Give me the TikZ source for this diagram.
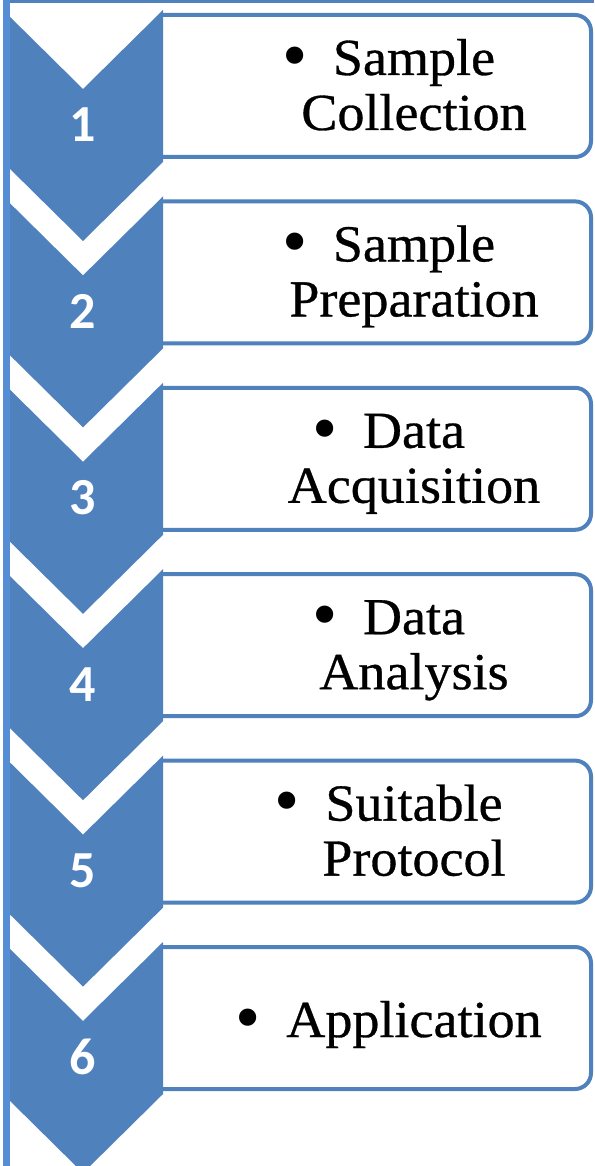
\documentclass[tikz,border=0pt]{standalone}
\usepackage{fontspec}
\setmainfont[FakeBold=0.6,FakeStretch=1.04]{Liberation Serif}
\newfontfamily\numfont{Carlito}
\newfontfamily\bulfont{Liberation Serif}
\definecolor{chev}{RGB}{79,129,189}
\definecolor{barblue}{RGB}{85,142,213}
\begin{document}
\begin{tikzpicture}[x=1pt,y=-1pt,
  chevron/.style={fill=chev, draw=none},
  stepnum/.style={text=white, font=\numfont\bfseries\fontsize{52}{52}\selectfont, inner sep=0pt},
  itembox/.style={draw=chev, line width=4pt, fill=white, rounded corners=16pt},
  word/.style={font=\fontsize{52}{52}\selectfont, inner sep=0pt, anchor=base},
  bul/.style={font=\bulfont\fontsize{72}{72}\selectfont, inner sep=0pt, anchor=center}]
\useasboundingbox (0,0) rectangle (594,1166);
\fill[white] (0,0) rectangle (594,1166);
% boxes
\foreach \k in {0,...,5} {
  \draw[itembox] (162,15+\k*186.4) -- (591,15+\k*186.4) -- (591,157+\k*186.4) -- (162,157+\k*186.4);
}
% chevrons
\foreach \k in {0,...,5} {
  \fill[chevron] (3,10+\k*186.4) -- (83,89+\k*186.4) -- (163,10+\k*186.4) -- (163,162+\k*186.4)
     -- (83,241+\k*186.4) -- (3,162+\k*186.4) -- cycle;
}
% frame
\fill[barblue] (3,0) rectangle (10,1166);
\fill[chev] (10,0) rectangle (594,3.5);
% numbers
\foreach \k/\n in {0/1,1/2,2/3,3/4,4/5,5/6} {
  \node[stepnum] (num\n) at (83,125+\k*186.4) {\n};
}
% texts
\foreach \k/\a/\b in {0/Sample/Collection,1/Sample/Preparation,2/Data/Acquisition,3/Data/Analysis,4/Suitable/Protocol} {
  \node[word] (wa\k) at (414,75+\k*186.4) {\a};
  \node[word] (wb\k) at (414,130+\k*186.4) {\b};
  \node[bul] (bu\k) at ([xshift=-38pt,yshift=12pt]wa\k.base west) {\textbullet};
}
\node[word] (wa5) at (414,1037) {Application};
\node[bul] (bu5) at ([xshift=-38pt,yshift=12pt]wa5.base west) {\textbullet};
\end{tikzpicture}
\end{document}
